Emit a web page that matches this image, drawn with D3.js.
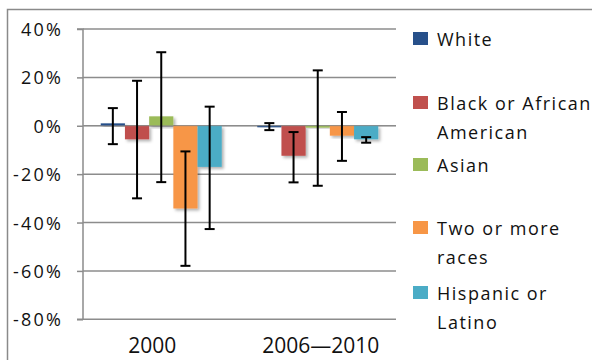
<!DOCTYPE html>
<html>
<head>
<meta charset="utf-8">
<script src="https://cdn.jsdelivr.net/npm/d3@7"></script>
<style>
  html, body { margin: 0; padding: 0; background: #fff; }
  svg { display: block; font-family: "Open Sans", sans-serif; }
</style>
</head>
<body>
<svg id="chart" width="592" height="360"></svg>
<script>
const categories = ["2000", "2006\u20142010"];
const seriesNames = ["White", "Black or African American", "Asian", "Two or more races", "Hispanic or Latino"];
const legendLines = [["White"], ["Black or African", "American"], ["Asian"], ["Two or more", "races"], ["Hispanic or", "Latino"]];
const seriesColors = ["#27508a", "#c0504d", "#9bbb59", "#f79646", "#4bacc6"];
// values in percent, per series: [2000, 2006-2010]
const values = [
  [1.0, -0.5],
  [-5.6, -12.4],
  [3.9, -0.8],
  [-34.2, -4.1],
  [-17.0, -5.6]
];
const errLow = [
  [-7.6, -1.8],
  [-30.0, -23.4],
  [-23.3, -24.8],
  [-57.9, -14.5],
  [-42.7, -7.0]
];
const errHigh = [
  [7.3, 1.1],
  [18.6, -2.6],
  [30.4, 22.9],
  [-10.6, 5.7],
  [7.9, -4.7]
];
const yTicks = [40, 20, 0, -20, -40, -60, -80];

const svg = d3.select("#chart");
const W = 592, H = 360;
svg.append("rect").attr("width", W).attr("height", H).attr("fill", "#fff");

// outer chart border
svg.append("path")
  .attr("d", "M7.5,362 L7.5,9.5 L600,9.5")
  .attr("fill", "none").attr("stroke", "#8a8a8a").attr("stroke-width", 1.5);

const plotLeft = 83, plotRight = 396, plotTop = 29, plotBottom = 319.3;
const y = d3.scaleLinear().domain([-80, 40]).range([plotBottom, plotTop]);
const x0 = d3.scaleBand().domain(categories).range([plotLeft, plotRight]);
const x1 = d3.scaleBand().domain(seriesNames).range([0, x0.bandwidth()]).paddingOuter(0.733).paddingInner(0);

const defs = svg.append("defs");
const f = defs.append("filter").attr("id", "shadow").attr("x", "-30%").attr("y", "-30%").attr("width", "160%").attr("height", "160%");
f.append("feDropShadow").attr("dx", 2).attr("dy", 2).attr("stdDeviation", 1.6)
  .attr("flood-color", "#000").attr("flood-opacity", 0.3);

// gridlines
svg.append("g").selectAll("line").data(yTicks).join("line")
  .attr("x1", plotLeft).attr("x2", plotRight)
  .attr("y1", d => y(d)).attr("y2", d => y(d))
  .attr("stroke", "#8c8c8c").attr("stroke-width", 1.5);

// y axis
const yAxis = d3.axisLeft(y).tickValues(yTicks).tickSize(6).tickPadding(14)
  .tickFormat(d => d + "%");
const ya = svg.append("g").attr("transform", `translate(${plotLeft},0)`).call(yAxis);
ya.select(".domain").attr("stroke", "#8c8c8c").attr("stroke-width", 1.5)
  .attr("d", `M-6,${plotTop}H0V${plotBottom}H-6`);
ya.selectAll(".tick line").attr("stroke", "#8c8c8c").attr("stroke-width", 1.5);
ya.selectAll(".tick text").attr("font-size", 18).attr("fill", "#111")
  .attr("font-family", "Open Sans").attr("letter-spacing", 2.2).attr("dy", "0.36em");

// bars
const rows = [];
seriesNames.forEach((s, si) => categories.forEach((c, ci) => {
  rows.push({ s, si, c, v: values[si][ci], lo: errLow[si][ci], hi: errHigh[si][ci] });
}));

svg.append("g").selectAll("rect").data(rows).join("rect")
  .attr("x", d => x0(d.c) + x1(d.s))
  .attr("width", x1.bandwidth())
  .attr("y", d => y(Math.max(0, d.v)))
  .attr("height", d => Math.max(1.5, Math.abs(y(d.v) - y(0))))
  .attr("fill", d => seriesColors[d.si])
  .attr("filter", "url(#shadow)");

// zero line on top
svg.append("line").attr("x1", plotLeft).attr("x2", plotRight)
  .attr("y1", y(0)).attr("y2", y(0)).attr("stroke", "#8c8c8c").attr("stroke-width", 1.2).attr("opacity", 0.6);

// error bars
const eg = svg.append("g").selectAll("g").data(rows).join("g")
  .attr("transform", d => `translate(${x0(d.c) + x1(d.s) + x1.bandwidth() / 2},0)`);
eg.append("line").attr("y1", d => y(d.hi)).attr("y2", d => y(d.lo))
  .attr("stroke", "#000").attr("stroke-width", 2);
eg.append("line").attr("x1", -5).attr("x2", 5).attr("y1", d => y(d.hi)).attr("y2", d => y(d.hi))
  .attr("stroke", "#000").attr("stroke-width", 2);
eg.append("line").attr("x1", -5).attr("x2", 5).attr("y1", d => y(d.lo)).attr("y2", d => y(d.lo))
  .attr("stroke", "#000").attr("stroke-width", 2);

// category labels
const xAxis = d3.axisBottom(x0).tickSize(0).tickPadding(0);
const xa = svg.append("g").attr("transform", `translate(0,${plotBottom})`).call(xAxis);
xa.select(".domain").remove();
const labelNudge = [-9, 3];
xa.selectAll(".tick text").attr("font-size", 21).attr("fill", "#111")
  .attr("font-family", "Open Sans")
  .attr("dy", 0).attr("y", 34)
  .attr("dx", (d, i) => labelNudge[i]);

// legend
const legendTops = [32, 96, 158, 221, 286];
const lg = svg.append("g").selectAll("g").data(seriesNames).join("g")
  .attr("transform", (d, i) => `translate(413,${legendTops[i]})`);
lg.append("rect").attr("width", 15).attr("height", 13).attr("fill", (d, i) => seriesColors[i]);
lg.each(function (d, i) {
  const t = d3.select(this).append("text").attr("x", 24).attr("y", 14)
    .attr("font-size", 18).attr("fill", "#111").attr("letter-spacing", 1.5);
  legendLines[i].forEach((ln, k) => {
    t.append("tspan").attr("x", 24).attr("dy", k === 0 ? 0 : 29).text(ln);
  });
});
</script>
</body>
</html>
